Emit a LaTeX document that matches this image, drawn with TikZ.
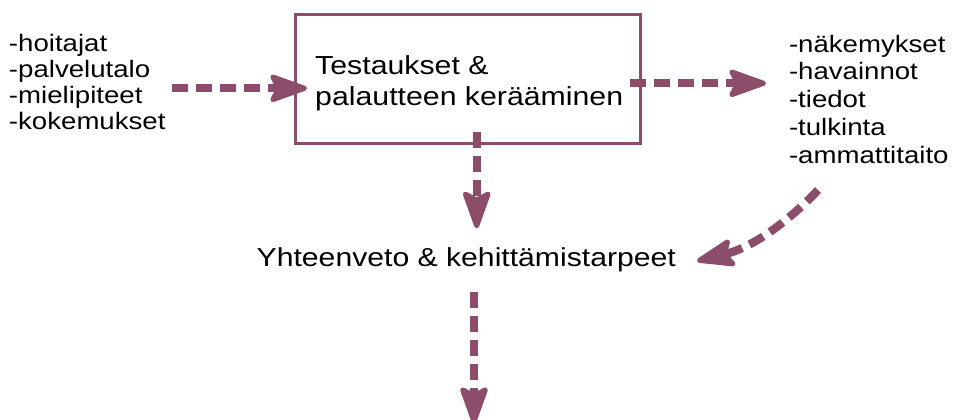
\documentclass[tikz,border=0pt]{standalone}
\usepackage{fontspec}
\setmainfont{Liberation Sans}[FakeStretch=1.16]
\usetikzlibrary{arrows.meta,calc}
\definecolor{mauve}{RGB}{139,77,106}
\tikzset{
  conn/.style={draw=mauve, color=mauve, line width=8.3pt, dash pattern=on 16pt off 8pt,
    -{Stealth[length=44pt,width=31pt,inset=8pt,round,line width=5pt]}},
  listtext/.style={anchor=north west, inner sep=0pt, align=left},
  framebox/.style={draw=mauve, line width=3pt, inner sep=0pt},
}
\begin{document}
\begin{tikzpicture}[x=1pt,y=-1pt]
\useasboundingbox (0,0) rectangle (954,420);
\node[framebox, minimum width=345.5pt, minimum height=128.3pt] (box) at (467.75,79.15) {};
\node[listtext, font=\fontsize{26.1}{30.7}\selectfont] (boxtext) at (315,55.3) {Testaukset \&\\palautteen kerääminen};
\node[listtext, font=\fontsize{23.8}{26.2}\selectfont] (left) at (8.8,33.7) {-hoitajat\\-palvelutalo\\-mielipiteet\\-kokemukset};
\node[listtext, font=\fontsize{23.8}{27.8}\selectfont] (right) at (788.8,34.7) {-näkemykset\\-havainnot\\-tiedot\\-tulkinta\\-ammattitaito};
\node[anchor=base west, inner sep=0pt, font=\fontsize{26}{30}\selectfont] (mid) at (256.5,266.7) {Yhteenveto \& kehittämistarpeet};
% connectors
\coordinate (a1s) at (172,88.3);
\coordinate (a1e) at (307,88.3);
\draw[conn] (a1s) -- (a1e);
\coordinate (a2s) at (630,83.3);
\coordinate (a2e) at (766,83.3);
\draw[conn] (a2s) -- (a2e);
\coordinate (a3s) at (476.7,131.7);
\coordinate (a3e) at (476.7,228.3);
\draw[conn] (a3s) -- (a3e);
\coordinate (a4s) at (818,190);
\coordinate (a4e) at (697,261);
\draw[conn] (a4s) .. controls (785,225) and (750,248) .. (a4e);
\coordinate (a5s) at (474,291.7);
\coordinate (a5e) at (474,424);
\draw[conn] (a5s) -- (a5e);
\end{tikzpicture}
\end{document}
